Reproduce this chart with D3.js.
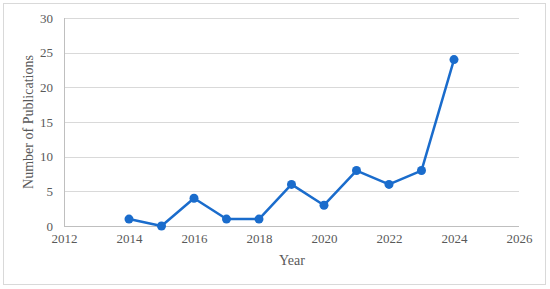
<!DOCTYPE html>
<html><head><meta charset="utf-8">
<script src="https://cdn.jsdelivr.net/npm/d3@7"></script>
<style>body{margin:0;background:#fff}svg{display:block}
svg text{font-family:"Liberation Serif","Times New Roman",Tinos,"DejaVu Serif",serif !important;}</style>
</head><body><svg id="c" width="550" height="289"></svg>
<script>
const years = [2014,2015,2016,2017,2018,2019,2020,2021,2022,2023,2024];
const counts = [1,0,4,1,1,6,3,8,6,8,24];
const xTicks = [2012,2014,2016,2018,2020,2022,2024,2026];
const yTicks = [0,5,10,15,20,25,30];

const svg = d3.select("#c");
const grey = "#595959";
svg.append("rect").attr("x",3.5).attr("y",3.5).attr("width",542).attr("height",281)
  .attr("fill","#fff").attr("stroke","#d9d9d9");

const x = d3.scaleLinear().domain([2012,2026]).range([64,519]);
const y = d3.scaleLinear().domain([0,30]).range([226,18]);

const g = svg.append("g");
g.selectAll(".grid").data(yTicks.filter(d=>d>0)).join("line")
  .attr("x1",x(2012)).attr("x2",x(2026)).attr("y1",d=>Math.round(y(d))+0.5).attr("y2",d=>Math.round(y(d))+0.5)
  .attr("stroke","#d9d9d9").attr("stroke-width",1);
g.append("line").attr("x1",x(2012)).attr("x2",x(2026)).attr("y1",Math.round(y(0))+0.5).attr("y2",Math.round(y(0))+0.5)
  .attr("stroke","#bfbfbf");
g.append("line").attr("x1",Math.round(x(2012))+0.5).attr("x2",Math.round(x(2012))+0.5).attr("y1",y(30)).attr("y2",y(0))
  .attr("stroke","#bfbfbf");

const yAxis = d3.axisLeft(y).tickValues(yTicks).tickSize(0).tickPadding(11);
const ya = svg.append("g").attr("transform",`translate(${x(2012)},0)`).call(yAxis);
ya.select(".domain").remove();
ya.selectAll("text").attr("font-size",13).attr("fill",grey);

const xAxis = d3.axisBottom(x).tickValues(xTicks).tickFormat(d3.format("d")).tickSize(0).tickPadding(8);
const xa = svg.append("g").attr("transform",`translate(0,${y(0)})`).call(xAxis);
xa.select(".domain").remove();
xa.selectAll("text").attr("font-size",13).attr("fill",grey);

svg.append("text").attr("x",292).attr("y",265).attr("text-anchor","middle")
  .attr("font-size",14).attr("fill",grey).text("Year");
svg.append("text").attr("transform",`translate(33,${y(15)}) rotate(-90)`).attr("text-anchor","middle")
  .attr("font-size",14).attr("fill",grey).text("Number of Publications");

const data = years.map((d,i)=>({year:d,v:counts[i]}));
const color = "#1a6ccc";
svg.append("path").datum(data).attr("fill","none").attr("stroke",color).attr("stroke-width",2.5)
  .attr("stroke-linejoin","round")
  .attr("d",d3.line().x(d=>x(d.year)).y(d=>y(d.v)));
svg.selectAll(".pt").data(data).join("circle").attr("cx",d=>x(d.year)).attr("cy",d=>y(d.v))
  .attr("r",4.5).attr("fill",color);
</script></body></html>
